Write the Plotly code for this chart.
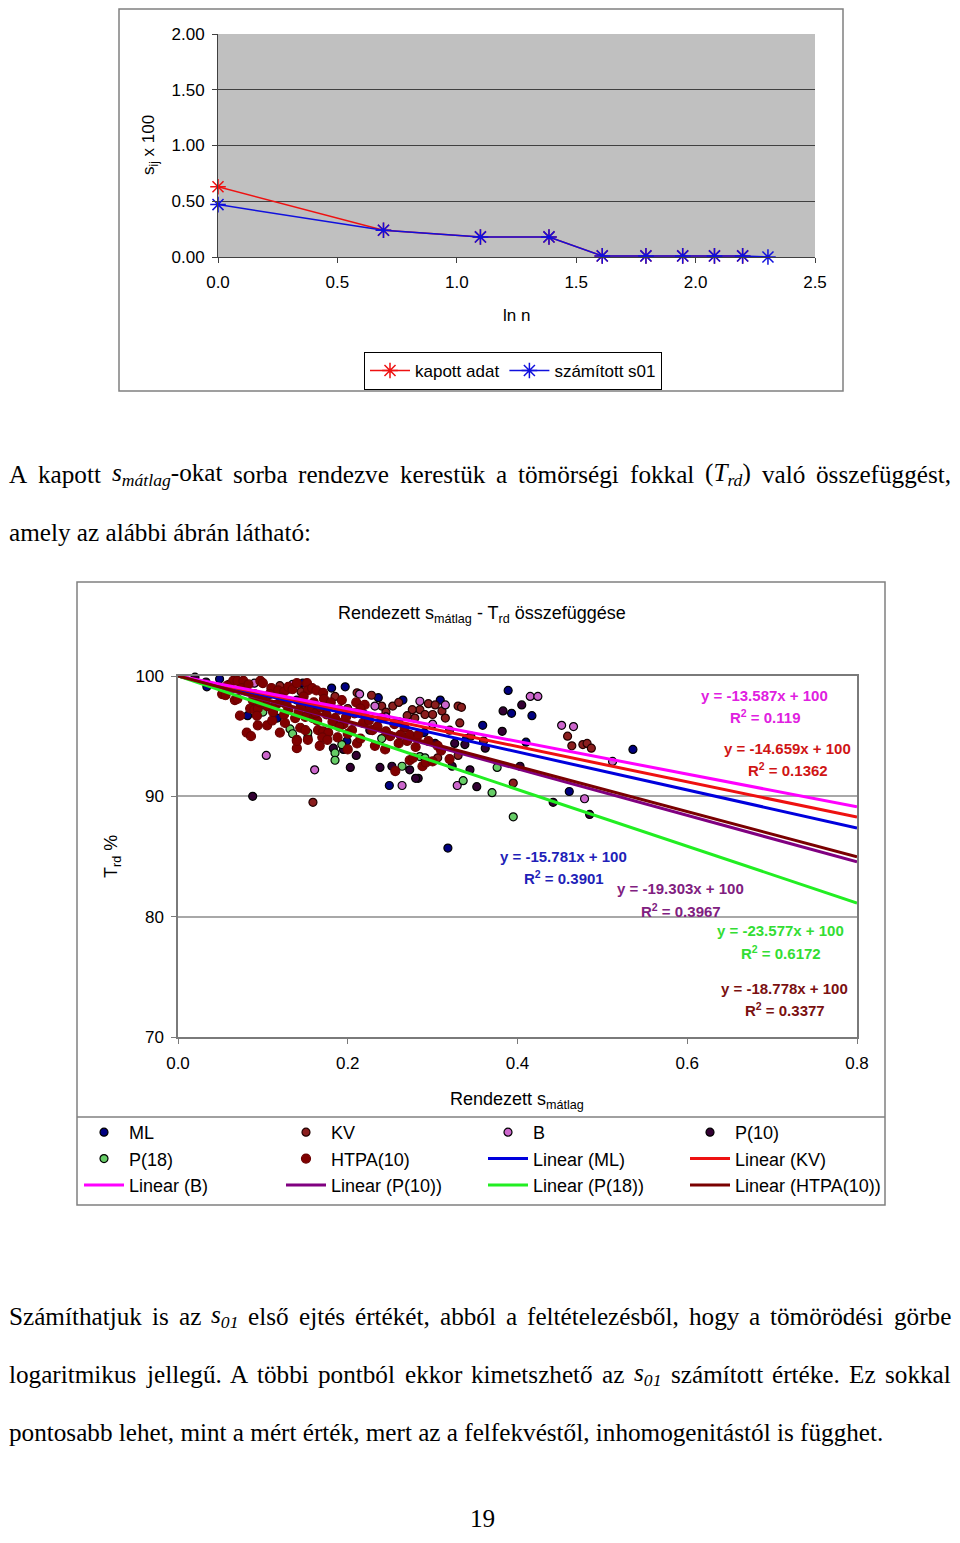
import plotly.graph_objects as go

# the html body has an 8px margin on every side; size the figure so the page
# exactly fills the 960x1543 window and map page pixels onto paper coordinates
OFF = 8
W, H = 960 - 2 * OFF, 1543 - 2 * OFF


def px(x):
    return (x - OFF) / W


def py(y):
    return 1 - (y - OFF) / H


SANS = "Liberation Sans, Arial, sans-serif"
SERIF = "Liberation Serif, Times New Roman, serif"

# ---------------- Chart 1 data ----------------
ln_n = [0.0, 0.693, 1.099, 1.386, 1.609, 1.792, 1.946, 2.079, 2.197, 2.303]
kapott_adat = [0.63, 0.24, 0.18, 0.18, 0.01, 0.01, 0.01, 0.01, 0.01]
szamitott_s01 = [0.47, 0.24, 0.18, 0.18, 0.01, 0.01, 0.01, 0.01, 0.01, 0.00]

# ---------------- Chart 2 data (s_matlag, T_rd %) ----------------
ml_pts = [(0.049, 99.75), (0.034, 99.1), (0.082, 96.7), (0.117, 96.5), (0.181, 99.0),
          (0.197, 99.1), (0.236, 98.2), (0.265, 98.0), (0.199, 94.6), (0.249, 90.9),
          (0.309, 98.0), (0.389, 98.8), (0.393, 96.9), (0.417, 96.7), (0.359, 95.9),
          (0.536, 93.9), (0.461, 90.4), (0.318, 85.7), (0.147, 99.4), (0.13, 98.9),
          (0.16, 97.2), (0.22, 96.8), (0.29, 95.3), (0.34, 94.8), (0.41, 94.5)]
kv_pts = [(0.159, 89.5), (0.464, 94.2), (0.459, 95.0), (0.477, 94.3), (0.482, 94.4),
          (0.487, 94.0), (0.285, 97.2), (0.295, 97.7), (0.303, 97.6), (0.311, 97.1),
          (0.315, 96.5), (0.33, 97.5), (0.334, 97.4), (0.332, 96.1), (0.291, 96.8),
          (0.3, 96.8), (0.306, 93.2), (0.33, 93.4), (0.276, 97.2), (0.279, 96.5),
          (0.228, 98.4), (0.211, 98.6), (0.24, 97.5), (0.253, 97.5), (0.395, 91.1),
          (0.12, 99.2), (0.145, 98.7), (0.185, 98.3), (0.2, 97.3), (0.245, 97.0),
          (0.26, 97.8), (0.27, 96.7), (0.32, 95.5), (0.345, 95.0), (0.36, 94.6)]
b_pts = [(0.104, 93.4), (0.214, 98.5), (0.232, 97.5), (0.161, 92.2), (0.264, 90.9),
         (0.315, 97.6), (0.415, 98.3), (0.424, 98.3), (0.329, 90.9), (0.452, 95.9),
         (0.466, 95.8), (0.512, 92.9), (0.479, 89.8), (0.135, 99.3), (0.285, 97.9),
         (0.245, 96.6), (0.09, 99.4), (0.175, 97.3), (0.3, 96.0)]
p10_pts = [(0.020, 99.9), (0.088, 90.0), (0.352, 90.8), (0.442, 89.5), (0.485, 88.5),
           (0.383, 97.1), (0.405, 97.6), (0.382, 95.4), (0.362, 94.0), (0.338, 94.3),
           (0.326, 94.4), (0.344, 92.2), (0.323, 92.5), (0.283, 91.5), (0.252, 92.5),
           (0.238, 92.4), (0.273, 92.2), (0.303, 94.4), (0.21, 93.4), (0.195, 93.9),
           (0.183, 94.0), (0.153, 94.9), (0.28, 91.5), (0.203, 92.4), (0.403, 92.5),
           (0.11, 98.9), (0.06, 99.3), (0.14, 98.0), (0.226, 95.5), (0.26, 96.2),
           (0.033, 99.5)]
p18_pts = [(0.132, 95.6), (0.153, 95.3), (0.193, 94.3), (0.185, 93.6), (0.185, 93.0),
           (0.264, 92.5), (0.285, 93.3), (0.291, 93.2), (0.336, 91.3), (0.376, 92.4),
           (0.37, 90.3), (0.395, 88.3), (0.135, 95.2), (0.24, 94.8), (0.10, 97.0)]
htpa_pts = [(0.065, 99.6), (0.07, 99.6), (0.077, 99.6), (0.097, 99.6), (0.1, 99.4),
            (0.052, 98.5), (0.056, 98.4), (0.067, 98.0), (0.07, 98.1), (0.085, 97.3),
            (0.09, 97.2), (0.094, 97.3), (0.073, 96.7), (0.093, 96.7), (0.094, 95.9),
            (0.105, 95.9), (0.111, 96.3), (0.081, 95.3), (0.086, 95.0), (0.12, 95.3),
            (0.126, 96.1), (0.14, 94.7), (0.14, 94.0), (0.11, 99.0), (0.118, 98.8),
            (0.125, 98.7), (0.13, 99.1), (0.135, 98.9), (0.14, 99.4), (0.152, 99.4),
            (0.153, 98.8), (0.158, 99.0), (0.163, 98.8), (0.171, 98.6), (0.193, 98.0),
            (0.21, 97.8), (0.22, 97.6), (0.144, 95.7), (0.15, 95.5), (0.159, 96.5),
            (0.164, 96.3), (0.165, 95.5), (0.171, 95.4), (0.177, 95.3), (0.153, 94.7),
            (0.17, 94.9), (0.176, 94.7), (0.188, 94.9), (0.14, 94.6), (0.167, 94.2),
            (0.2, 93.9), (0.211, 94.4), (0.218, 96.1), (0.229, 95.5), (0.232, 94.2),
            (0.244, 93.9), (0.256, 92.1), (0.273, 93.0), (0.277, 93.2), (0.267, 95.7),
            (0.273, 95.1), (0.283, 95.1), (0.306, 94.2), (0.288, 92.5), (0.292, 92.8),
            (0.1, 98.2), (0.115, 97.6), (0.13, 97.2), (0.145, 97.5), (0.16, 97.8),
            (0.175, 96.8), (0.185, 96.5), (0.195, 96.0), (0.205, 95.5), (0.08, 98.8),
            (0.09, 98.5), (0.12, 97.8), (0.15, 96.6), (0.19, 97.2), (0.25, 95.0),
            (0.26, 94.4), (0.2, 95.2), (0.215, 94.8), (0.24, 96.5), (0.125, 96.8),
            (0.105, 97.5), (0.058, 99.2), (0.062, 98.9), (0.075, 99.0), (0.083, 99.3),
            (0.088, 98.0), (0.096, 97.8), (0.108, 98.5), (0.112, 97.0), (0.122, 98.2),
            (0.128, 97.6), (0.138, 96.5), (0.142, 97.0), (0.148, 98.3), (0.155, 97.2),
            (0.162, 96.9), (0.168, 97.4), (0.172, 98.1), (0.18, 97.8), (0.182, 96.2),
            (0.19, 95.8), (0.198, 96.6), (0.208, 96.9), (0.215, 97.3), (0.225, 96.3),
            (0.235, 95.8), (0.245, 95.4), (0.255, 96.0), (0.262, 95.1), (0.27, 94.6),
            (0.28, 94.1), (0.295, 94.6), (0.31, 93.8), (0.32, 93.1), (0.3, 92.9)]

series_names = ["ML", "KV", "B", "P(10)", "P(18)", "HTPA(10)"]
series_points = [ml_pts, kv_pts, b_pts, p10_pts, p18_pts, htpa_pts]
marker_fill = ["#000080", "#8B1E1E", "#CC66CC", "#330033", "#66CC66", "#800000"]
marker_edge = ["#000000", "#220000", "#000000", "#000000", "#000000", "#6A0000"]
marker_size = [8, 8, 8, 8, 8, 9]

trend_slopes = [-15.781, -14.659, -13.587, -19.303, -23.577, -18.778]
trend_r2 = ["0.3901", "0.1362", "0.119", "0.3967", "0.6172", "0.3377"]
trend_colors = ["#0000DD", "#EE1111", "#FF00FF", "#800080", "#22EE22", "#7A0000"]
label_colors = ["#1F1FB8", "#D01515", "#E020E0", "#802080", "#33DD33", "#7A1010"]
# label centre positions (page pixels) for equation / R² text
label_pos = [(563, 856), (787, 748), (764, 695), (680, 889), (780, 931), (784, 988)]

fig = go.Figure()

# ---------- chart 1 traces ----------
fig.add_trace(go.Scatter(
    x=ln_n[:len(kapott_adat)], y=kapott_adat, name="kapott adat", mode="lines+markers",
    line=dict(color="#EE1111", width=1.5),
    marker=dict(symbol="asterisk-open", size=13, line=dict(color="#EE1111", width=1.5)),
    xaxis="x", yaxis="y", legend="legend2", cliponaxis=False))
fig.add_trace(go.Scatter(
    x=ln_n, y=szamitott_s01, name="számított s01", mode="lines+markers",
    line=dict(color="#1010DD", width=1.5),
    marker=dict(symbol="asterisk-open", size=13, line=dict(color="#1010DD", width=1.5)),
    xaxis="x", yaxis="y", legend="legend2", cliponaxis=False))

# ---------- chart 2 scatter traces ----------
for name, pts, fc, ec, ms in zip(series_names, series_points, marker_fill, marker_edge, marker_size):
    fig.add_trace(go.Scatter(
        x=[p[0] for p in pts], y=[p[1] for p in pts], name=name, mode="markers",
        marker=dict(color=fc, size=ms, line=dict(color=ec, width=1.2)),
        xaxis="x2", yaxis="y2", legend="legend", cliponaxis=False))

# ---------- chart 2 trendlines ----------
x_end = 0.8
for name, s, c in zip(series_names, trend_slopes, trend_colors):
    fig.add_trace(go.Scatter(
        x=[0, x_end], y=[100, 100 + s * x_end], name=f"Linear ({name})", mode="lines",
        line=dict(color=c, width=3), xaxis="x2", yaxis="y2", legend="legend"))

annotations = []


def ann(text, x, y, size=16, family=SANS, color="#000000", angle=0, xanchor="center", bold=False):
    if bold:
        text = f"<b>{text}</b>"
    annotations.append(dict(text=text, x=px(x), y=py(y), xref="paper", yref="paper",
                            showarrow=False, xanchor=xanchor, yanchor="middle",
                            textangle=angle, borderpad=0,
                            font=dict(size=size, family=family, color=color)))


# chart 1 titles
ann("s<sub>ij</sub> x 100", 150, 145, size=17, angle=-90)
ann("ln n", 516, 315, size=17)

# chart 2 titles
ann("Rendezett s<sub>mátlag</sub> - T<sub>rd</sub> összefüggése", 482, 614, size=18)
ann("Rendezett s<sub>mátlag</sub>", 517, 1100, size=18)
ann("T<sub>rd</sub> %", 112, 857, size=18, angle=-90)

# equations
for s, r2, c, (lx, ly) in zip(trend_slopes, trend_r2, label_colors, label_pos):
    ann(f"y = {s:.3f}x + 100", lx, ly, size=15, color=c, bold=True)
    ann(f"R<sup>2</sup> = {r2}", lx + 1, ly + 21, size=15, color=c, bold=True)

# ---------- body text ----------
TIMES = {
    'a': 444, 'b': 500, 'c': 444, 'd': 500, 'e': 444, 'f': 333, 'g': 500, 'h': 500, 'i': 278,
    'j': 278, 'k': 500, 'l': 278, 'm': 778, 'n': 500, 'o': 500, 'p': 500, 'q': 500, 'r': 333,
    's': 389, 't': 278, 'u': 500, 'v': 500, 'w': 722, 'x': 500, 'y': 500, 'z': 444,
    'á': 444, 'é': 444, 'í': 278, 'ó': 500, 'ö': 500, 'ő': 500, 'ú': 500, 'ü': 500, 'ű': 500,
    'A': 722, 'E': 611, 'S': 556, 'T': 611, 'Z': 611,
    ',': 250, '.': 250, ':': 278, '(': 333, ')': 333, '-': 333, ' ': 250,
}
BODY = 25.2


def word_w(w):
    if isinstance(w, tuple):
        return w[1] * BODY
    return sum(TIMES.get(ch, 500) for ch in w) / 1000 * BODY


def justify(words, y, x0=8, x1=950):
    widths = [word_w(w) for w in words]
    gap = (x1 - x0 - sum(widths)) / (len(words) - 1)
    x = x0
    for w, wd in zip(words, widths):
        t = w[0] if isinstance(w, tuple) else w
        ann(t, x, y, size=BODY, family=SERIF, xanchor="left")
        x += wd + gap


S_MATLAG = ("<i>s<sub>mátlag</sub></i>-okat", 4.389)
T_RD = ("(<i>T<sub>rd</sub></i>)", 1.844)
S01 = ("<i>s<sub>01</sub></i>", 1.089)

justify(["A", "kapott", S_MATLAG, "sorba", "rendezve", "kerestük", "a", "tömörségi",
         "fokkal", T_RD, "való", "összefüggést,"], 474)
ann("amely az alábbi ábrán látható:", 8, 532, size=BODY, family=SERIF, xanchor="left")
justify(["Számíthatjuk", "is", "az", S01, "első", "ejtés", "értékét,", "abból", "a",
         "feltételezésből,", "hogy", "a", "tömörödési", "görbe"], 1316)
justify(["logaritmikus", "jellegű.", "A", "többi", "pontból", "ekkor", "kimetszhető", "az",
         S01, "számított", "értéke.", "Ez", "sokkal"], 1374)
ann("pontosabb lehet, mint a mért érték, mert az a felfekvéstől, inhomogenitástól is függhet.",
    8, 1432, size=BODY, family=SERIF, xanchor="left")
ann("19", 482, 1518, size=BODY, family=SERIF)

# ---------- shapes ----------
shapes = [
    # chart 1 plot-area fill
    dict(type="rect", xref="x domain", yref="y domain", x0=0, x1=1, y0=0, y1=1,
         fillcolor="#C0C0C0", line=dict(width=0), layer="below"),
    # chart 1 frame (top edge kept just inside the visible page)
    dict(type="rect", xref="paper", yref="paper", x0=px(119), x1=px(843), y0=py(391), y1=py(9),
         line=dict(color="#808080", width=1.5)),
    # chart 2 frame
    dict(type="rect", xref="paper", yref="paper", x0=px(77), x1=px(885), y0=py(1205), y1=py(582),
         line=dict(color="#808080", width=1.5)),
    # chart 2 legend separator
    dict(type="line", xref="paper", yref="paper", x0=px(77), x1=px(885), y0=py(1117), y1=py(1117),
         line=dict(color="#808080", width=1.5)),
]

tick17 = dict(size=17, family=SANS, color="#000000")

fig.update_layout(
    width=W, height=H, margin=dict(l=0, r=0, t=0, b=0, autoexpand=False),
    paper_bgcolor="white", plot_bgcolor="rgba(0,0,0,0)",
    font=dict(family=SANS, size=16, color="#000000"),
    xaxis=dict(domain=[px(218), px(815)], range=[0, 2.5], dtick=0.5, tickformat=".1f",
               anchor="y", showline=True, linecolor="#404040", linewidth=1, automargin=False,
               ticks="outside", ticklen=5, tickcolor="#404040", showgrid=False, zeroline=False,
               tickfont=tick17, ticklabelstandoff=5),
    yaxis=dict(domain=[py(257), py(34)], range=[0, 2], dtick=0.5, tickformat=".2f",
               anchor="x", showline=True, linecolor="#404040", linewidth=1, automargin=False,
               ticks="outside", ticklen=5, tickcolor="#404040", showgrid=True,
               gridcolor="#404040", gridwidth=1, zeroline=False, tickfont=tick17,
               ticklabelstandoff=4),
    xaxis2=dict(domain=[px(178), px(857)], range=[0, 0.8], dtick=0.2, tickformat=".1f",
                anchor="y2", showline=True, mirror=True, linecolor="#7A7A7A", linewidth=1.5,
                automargin=False,
                ticks="outside", ticklen=5, tickcolor="#7A7A7A", showgrid=False, zeroline=False,
                tickfont=tick17, ticklabelstandoff=5),
    yaxis2=dict(domain=[py(1037), py(676)], range=[70, 100], dtick=10,
                anchor="x2", showline=True, mirror=True, linecolor="#7A7A7A", linewidth=1.5,
                automargin=False,
                ticks="outside", ticklen=5, tickcolor="#7A7A7A", showgrid=True,
                gridcolor="#A8A8A8", gridwidth=1.5, zeroline=False, tickfont=tick17,
                ticklabelstandoff=4),
    legend=dict(orientation="h", x=px(79), y=py(1114), xanchor="left", yanchor="top",
                entrywidth=147, entrywidthmode="pixels", itemwidth=40,
                bgcolor="rgba(0,0,0,0)",
                font=dict(size=18, family=SANS), traceorder="normal"),
    legend2=dict(orientation="h", x=px(364), y=py(352), xanchor="left", yanchor="top",
                 bgcolor="white", bordercolor="#000000", borderwidth=1, itemwidth=40,
                 font=dict(size=17, family=SANS)),
    annotations=annotations,
    shapes=shapes,
    showlegend=True,
)

fig.write_html("out.html")
